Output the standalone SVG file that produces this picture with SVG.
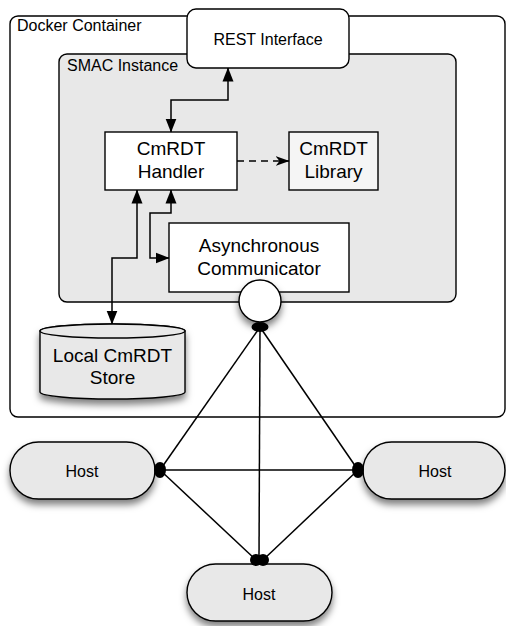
<svg xmlns="http://www.w3.org/2000/svg" width="506" height="626" viewBox="0 0 506 626">
<defs>
<style>
text{font-family:"Liberation Sans",Arial,sans-serif;fill:#000}
.lbl{font-size:16px}
.big{font-size:19px;text-anchor:middle}
.box{stroke:#000;stroke-width:1.4}
.ln{fill:none;stroke:#000;stroke-width:1.5}
.dot{fill:#000}
</style>
<filter id="sh" x="-30%" y="-30%" width="160%" height="180%">
<feDropShadow dx="0" dy="5" stdDeviation="3.5" flood-color="#000" flood-opacity="0.5"/>
</filter>
<marker id="ah" markerWidth="14" markerHeight="12" refX="13.5" refY="6" orient="auto-start-reverse" markerUnits="userSpaceOnUse">
<path d="M0,0.5 L14,6 L0,11.5 z" fill="#000"/>
</marker>
<marker id="ahs" markerWidth="14" markerHeight="12" refX="13.5" refY="6" orient="auto" markerUnits="userSpaceOnUse">
<path d="M0,1 L14,6 L0,11 L4,6 z" fill="#000"/>
</marker>
</defs>

<g id="docker-container">
<rect class="box" x="10" y="16" width="495" height="401" rx="8" fill="#fff"/>
<text class="lbl" x="17" y="31">Docker Container</text>
</g>

<g id="smac-instance">
<rect class="box" x="59" y="54" width="397" height="248" rx="8" fill="#e8e8e8"/>
<text class="lbl" x="67" y="71">SMAC Instance</text>
</g>

<g id="rest-interface">
<rect class="box" x="187" y="9" width="162" height="59" rx="9" fill="#fff"/>
<text class="lbl" x="268" y="45" text-anchor="middle">REST Interface</text>
</g>

<g id="cmrdt-handler">
<rect class="box" x="105" y="132" width="132" height="58" fill="#fff"/>
<text class="big" x="171" y="155">CmRDT</text>
<text class="big" x="171" y="178">Handler</text>
</g>

<g id="cmrdt-library">
<rect class="box" x="289" y="132" width="89" height="58" fill="#f5f5f5"/>
<text class="big" x="333.5" y="155">CmRDT</text>
<text class="big" x="333.5" y="178">Library</text>
</g>

<g id="async-communicator">
<rect class="box" x="169" y="223" width="180" height="69" fill="#fff"/>
<text class="big" x="259" y="252">Asynchronous</text>
<text class="big" x="259" y="275">Communicator</text>
</g>

<g id="port">
<circle class="box" cx="260" cy="301" r="21" fill="#fff" filter="url(#sh)"/>
<ellipse class="dot" cx="260" cy="327" rx="8.5" ry="5"/>
</g>

<g id="local-store">
<path class="box" d="M40,331 L40,392 A72.5,7 0 0 0 185,392 L185,331 A72.5,7 0 0 0 40,331 z" fill="#e8e8e8" filter="url(#sh)"/>
<ellipse class="box" cx="112.5" cy="331" rx="72.5" ry="7" fill="#e8e8e8"/>
<text class="big" x="112.5" y="362">Local CmRDT</text>
<text class="big" x="112.5" y="384">Store</text>
</g>

<g id="host-left">
<rect class="box" x="10" y="442" width="145" height="57" rx="28.5" fill="#e8e8e8" filter="url(#sh)"/>
<text class="lbl" x="82" y="477" text-anchor="middle">Host</text>
</g>

<g id="host-right">
<rect class="box" x="363" y="442" width="142" height="57" rx="28.5" fill="#e8e8e8" filter="url(#sh)"/>
<text class="lbl" x="435" y="477" text-anchor="middle">Host</text>
</g>

<g id="host-bottom">
<rect class="box" x="187" y="564" width="145" height="57" rx="28.5" fill="#e8e8e8" filter="url(#sh)"/>
<text class="lbl" x="259" y="600" text-anchor="middle">Host</text>
</g>

<g id="connectors">
<polyline class="ln" points="228,68 228,100 171,100 171,132" marker-start="url(#ah)" marker-end="url(#ah)"/>
<polyline class="ln" points="137,190 137,258 112,258 112,324" marker-start="url(#ah)" marker-end="url(#ah)"/>
<polyline class="ln" points="171,190 171,213 150,213 150,258 169,258" marker-start="url(#ah)" marker-end="url(#ah)"/>
<line class="ln" x1="237" y1="161" x2="289" y2="161" stroke-dasharray="7,5" marker-end="url(#ahs)"/>
<line class="ln" x1="260" y1="327" x2="160" y2="470"/>
<line class="ln" x1="260" y1="327" x2="259" y2="560"/>
<line class="ln" x1="260" y1="327" x2="358" y2="470"/>
<line class="ln" x1="160" y1="470" x2="358" y2="470"/>
<line class="ln" x1="160" y1="470" x2="256" y2="560"/>
<line class="ln" x1="358" y1="470" x2="263" y2="560"/>
<ellipse class="dot" cx="160" cy="470" rx="6" ry="8"/>
<ellipse class="dot" cx="358" cy="470" rx="6" ry="8"/>
<circle class="dot" cx="256" cy="560" r="6"/>
<circle class="dot" cx="263" cy="560" r="6"/>
</g>
</svg>
